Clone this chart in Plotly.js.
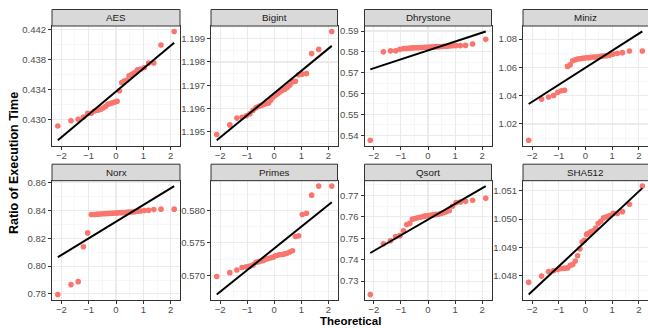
<!DOCTYPE html>
<html><head><meta charset="utf-8">
<script src="https://cdn.plot.ly/plotly-3.0.1.min.js"></script>
<style>html,body{margin:0;padding:0;background:#fff}</style>
</head><body>
<div id="chart" style="width:648px;height:328px"></div>
<script>
const panels = ["AES", "Bigint", "Dhrystone", "Miniz", "Norx", "Primes", "Qsort", "SHA512"];

// theoretical normal quantiles for n = 30
const theoretical = [-2.128, -1.645, -1.383, -1.192, -1.036, -0.903, -0.783, -0.674, -0.573, -0.477,
  -0.385, -0.297, -0.210, -0.126, -0.042, 0.042, 0.126, 0.210, 0.297, 0.385,
  0.477, 0.573, 0.674, 0.783, 0.903, 1.036, 1.192, 1.383, 1.645, 2.128];

const aes = [0.4291, 0.4298, 0.4300, 0.4303, 0.4308, 0.4308, 0.4311, 0.4312, 0.4313, 0.4315,
  0.4317, 0.4320, 0.4321, 0.4322, 0.4323, 0.4324, 0.4338, 0.4349, 0.4351, 0.4352,
  0.4358, 0.4360, 0.4362, 0.4366, 0.4367, 0.4369, 0.4375, 0.4375, 0.4399, 0.4417];
const bigint = [1.19489, 1.19530, 1.19559, 1.19563, 1.19569, 1.19578, 1.19593, 1.19604, 1.19610, 1.19613,
  1.19617, 1.19621, 1.19624, 1.19636, 1.19650, 1.19657, 1.19664, 1.19671, 1.19679, 1.19683,
  1.19690, 1.19700, 1.19714, 1.19717, 1.19745, 1.19748, 1.19750, 1.19836, 1.19854, 1.19931];
const dhrystone = [0.5376, 0.5800, 0.5805, 0.5805, 0.5812, 0.5816, 0.5817, 0.5818, 0.5819, 0.5820,
  0.5820, 0.5821, 0.5821, 0.5822, 0.5822, 0.5823, 0.5823, 0.5824, 0.5825, 0.5825,
  0.5826, 0.5827, 0.5827, 0.5828, 0.5829, 0.5830, 0.5830, 0.5831, 0.5838, 0.5860];
const miniz = [1.0085, 1.0376, 1.0391, 1.0402, 1.0424, 1.0435, 1.0438, 1.0607, 1.0619, 1.0647,
  1.0654, 1.0659, 1.0661, 1.0664, 1.0666, 1.0668, 1.0668, 1.0671, 1.0673, 1.0673,
  1.0675, 1.0678, 1.0680, 1.0682, 1.0685, 1.0694, 1.0699, 1.0704, 1.0715, 1.0715];
const norx = [0.7795, 0.7867, 0.7888, 0.8139, 0.8239, 0.8371, 0.8372, 0.8374, 0.8375, 0.8377,
  0.8378, 0.8379, 0.8380, 0.8381, 0.8382, 0.8383, 0.8384, 0.8385, 0.8386, 0.8387,
  0.8389, 0.8390, 0.8392, 0.8395, 0.8397, 0.8400, 0.8402, 0.8407, 0.8410, 0.8410];
const primes = [0.5698, 0.5704, 0.5708, 0.5712, 0.5713, 0.5714, 0.5716, 0.5720, 0.5721, 0.5722,
  0.5723, 0.5725, 0.5726, 0.5727, 0.5728, 0.5730, 0.5731, 0.5732, 0.5732, 0.5733,
  0.5734, 0.5736, 0.5738, 0.5760, 0.5761, 0.5794, 0.5796, 0.5824, 0.5838, 0.5838];
const qsort = [0.7237, 0.7474, 0.7488, 0.7508, 0.7512, 0.7535, 0.7564, 0.7569, 0.7589, 0.7592,
  0.7595, 0.7598, 0.7600, 0.7603, 0.7605, 0.7606, 0.7608, 0.7609, 0.7611, 0.7612,
  0.7615, 0.7619, 0.7623, 0.7628, 0.7649, 0.7666, 0.7669, 0.7672, 0.7677, 0.7686];
const sha512 = [1.04777, 1.04799, 1.04815, 1.04819, 1.04822, 1.04826, 1.04827, 1.04828, 1.04837, 1.04840,
  1.04852, 1.04871, 1.04895, 1.04919, 1.04925, 1.04946, 1.04951, 1.04956, 1.04959, 1.04968,
  1.04985, 1.04992, 1.05004, 1.05008, 1.05012, 1.05020, 1.05020, 1.05026, 1.05052, 1.05116];

// fitted reference line values at the lowest and highest theoretical quantile
const lineStart = [0.4272, 1.19464, 0.5716, 1.0341, 0.8064, 0.5670, 0.7431, 1.04734];
const lineEnd   = [0.4402, 1.19869, 0.5898, 1.0854, 0.8576, 0.5813, 0.7743, 1.05109];

// y tick labels per panel
const aesTicks = ["0.430", "0.434", "0.438", "0.442"];
const bigintTicks = ["1.195", "1.196", "1.197", "1.198", "1.199"];
const dhrystoneTicks = ["0.54", "0.55", "0.56", "0.57", "0.58", "0.59"];
const minizTicks = ["1.02", "1.04", "1.06", "1.08"];
const norxTicks = ["0.78", "0.80", "0.82", "0.84", "0.86"];
const primesTicks = ["0.570", "0.575", "0.580"];
const qsortTicks = ["0.73", "0.74", "0.75", "0.76", "0.77"];
const sha512Ticks = ["1.048", "1.049", "1.050", "1.051"];
const xTicks = [-2, -1, 0, 1, 2];

const series = [aes, bigint, dhrystone, miniz, norx, primes, qsort, sha512];
const tickSets = [aesTicks, bigintTicks, dhrystoneTicks, minizTicks, norxTicks, primesTicks, qsortTicks, sha512Ticks];

const W = 648, H = 328;
const cols = [[52, 180], [211, 337.5], [364.5, 491.5], [523, 648.5]];
const rows = [[26, 145.7], [180.7, 300]];
const stripH = 16.5;

const traces = [], shapes = [], annotations = [];
const layout = {
  width: W, height: H, margin: {l: 0, r: 0, t: 0, b: 0},
  paper_bgcolor: "#ffffff", plot_bgcolor: "#ffffff",
  showlegend: false,
  font: {family: "Liberation Sans, Arial, sans-serif", size: 9.5, color: "#4d4d4d"}
};

const xs = theoretical;
const xmin = xs[0], xmax = xs[xs.length - 1];
const xpad = (xmax - xmin) * 0.05;

panels.forEach((name, i) => {
  const r = Math.floor(i / 4), c = i % 4;
  const ax = i === 0 ? "" : String(i + 1);
  const xa = "x" + ax, ya = "y" + ax;
  const ys = series[i];
  traces.push({
    type: "scatter", mode: "markers", x: xs, y: ys, xaxis: xa, yaxis: ya,
    marker: {color: "#F8766D", size: 5.6}, hoverinfo: "skip"
  });
  traces.push({
    type: "scatter", mode: "lines", x: [xmin, xmax], y: [lineStart[i], lineEnd[i]],
    xaxis: xa, yaxis: ya, line: {color: "#000000", width: 2}, hoverinfo: "skip"
  });
  const lo = Math.min(...ys, lineStart[i], lineEnd[i]);
  const hi = Math.max(...ys, lineStart[i], lineEnd[i]);
  const pad = (hi - lo) * 0.05;
  const tv = tickSets[i].map(Number);
  const step = tv[1] - tv[0];
  const common = {
    showline: true, mirror: true, linecolor: "#333333", linewidth: 1,
    ticks: "outside", ticklen: 3, tickwidth: 1, tickcolor: "#333333",
    showgrid: true, gridcolor: "#ebebeb", gridwidth: 1.1, zeroline: false,
    tickfont: {size: 9.5, color: "#4d4d4d"}, fixedrange: true
  };
  layout["xaxis" + ax] = Object.assign({}, common, {
    domain: [cols[c][0] / W, Math.min(cols[c][1] / W, 1)],
    anchor: ya, range: [xmin - xpad, xmax + xpad],
    tickmode: "array", tickvals: xTicks, ticktext: xTicks.map(v => v < 0 ? "\u2212" + Math.abs(v) : String(v)),
    ticklabelstandoff: -2,
    minor: {tickmode: "linear", tick0: -2.5, dtick: 1, showgrid: true, gridcolor: "#f2f2f2", gridwidth: 0.6, ticks: ""}
  });
  layout["yaxis" + ax] = Object.assign({}, common, {
    domain: [(H - rows[r][1]) / H, (H - rows[r][0]) / H],
    anchor: xa, range: [lo - pad, hi + pad],
    tickmode: "array", tickvals: tv, ticktext: tickSets[i],
    minor: {tickmode: "linear", tick0: tv[0] - step / 2, dtick: step, showgrid: true, gridcolor: "#f2f2f2", gridwidth: 0.6, ticks: ""}
  });
  // facet strip
  shapes.push({
    type: "rect", xref: "paper", yref: "paper",
    x0: cols[c][0] / W, x1: cols[c][1] / W,
    y0: (H - rows[r][0]) / H, y1: (H - rows[r][0] + stripH) / H,
    fillcolor: "#d9d9d9", line: {color: "#333333", width: 1}, layer: "above"
  });
  annotations.push({
    xref: "paper", yref: "paper",
    x: (cols[c][0] + Math.min(cols[c][1], W)) / 2 / W, y: (H - rows[r][0] + stripH / 2) / H,
    text: name, showarrow: false, xanchor: "center", yanchor: "middle",
    font: {size: 9.8, color: "#1a1a1a"}
  });
});

annotations.push({
  xref: "paper", yref: "paper", x: 350 / W, y: (H - 321) / H,
  text: "<b>Theoretical</b>", showarrow: false, xanchor: "center", yanchor: "middle",
  font: {size: 11.5, color: "#000000"}, borderpad: 0
});
annotations.push({
  xref: "paper", yref: "paper", x: 14 / W, y: (H - 163) / H,
  text: "<b>Ratio of Execution Time</b>", showarrow: false, textangle: -90,
  xanchor: "center", yanchor: "middle",
  font: {size: 12.5, color: "#000000"}
});

layout.shapes = shapes;
layout.annotations = annotations;

Plotly.newPlot("chart", traces, layout, {staticPlot: true, displayModeBar: false});
</script>
</body></html>
